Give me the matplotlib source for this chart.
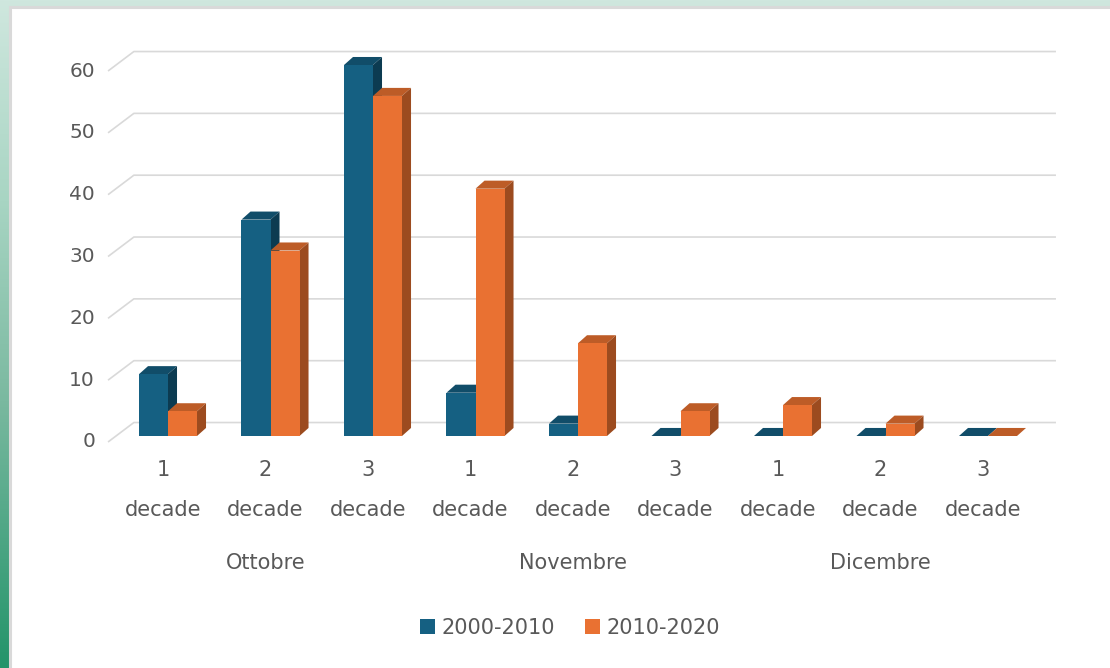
import numpy as np
import matplotlib.pyplot as plt
from matplotlib.patches import Polygon, Rectangle
from matplotlib.colors import LinearSegmentedColormap

plt.rcParams['font.family'] = ['DejaVu Sans']

months = ['Ottobre', 'Novembre', 'Dicembre']
decades = ['1\ndecade', '2\ndecade', '3\ndecade'] * 3
series_names = ['2000-2010', '2010-2020']
s2000 = [10, 35, 60, 7, 2, 0, 0, 0, 0]
s2010 = [4, 30, 55, 40, 15, 4, 5, 2, 0]
yticks = [0, 10, 20, 30, 40, 50, 60]

W, H = 1110, 668
fig = plt.figure(figsize=(W / 100, H / 100), dpi=100)

# green gradient behind the white panel
bg = fig.add_axes([0, 0, 1, 1])
cmap = LinearSegmentedColormap.from_list(
    'bg', [(0, '#cfe7de'), (0.3, '#a8d5c3'), (0.6, '#7ab9a0'), (1, '#23946a')])
grad = np.linspace(0, 1, 256).reshape(-1, 1)
bg.imshow(grad, aspect='auto', cmap=cmap, extent=[0, 1, 0, 1])
bg.set_xlim(0, 1)
bg.set_ylim(0, 1)
bg.axis('off')
bg.add_patch(Rectangle((10 / W, -0.01), 1.1, 1 - 7.5 / H + 0.01,
                       transform=bg.transAxes, facecolor='white',
                       edgecolor='#d9d9d9', linewidth=2.2))

# main axes spans the figure; limits chosen so one category = 102.5 px, one unit = 6.18 px
ax = fig.add_axes([0, 0, 1, 1], facecolor='none')
ax.set_xlim(-168 / 102.5, (W - 168) / 102.5)
ax.set_ylim(-(H - 436) / 6.183, 436 / 6.183)
ax.axis('off')

# 3D offsets (data units)
dx, dy = 0.088, 1.3          # bar depth
wx0, wy0 = -0.585, -0.97     # front edge of side wall
wx1, wy1 = -0.333, 2.18      # back wall corner
wx2 = 8.663                  # back wall right end
grey = '#595959'

for v in yticks:
    ax.plot([wx0, wx1, wx2], [v + wy0, v + wy1, v + wy1], color='#d9d9d9',
            lw=1.2, zorder=1, solid_capstyle='butt')
    ax.text(-0.712, v + wy0, str(v), ha='right', va='center', fontsize=14.5, color=grey)

x = np.arange(len(s2000))
bw = 0.283
styles = [('#156082', '#114d69', '#0c3b51'), ('#e97132', '#bd5c27', '#9c4b1f')]

for k, (vals, name) in enumerate(zip([s2000, s2010], series_names)):
    front, top, side = styles[k]
    left = x - bw + k * bw
    z = 2 + 2 * k
    ax.bar(left, vals, bw, align='edge', color=front, label=name, zorder=z + 1, linewidth=0)
    for l, h in zip(left, vals):
        ax.add_patch(Polygon([(l, h), (l + bw, h), (l + bw + dx, h + dy), (l + dx, h + dy)],
                             closed=True, facecolor=top, edgecolor='none', zorder=z))
        ax.add_patch(Polygon([(l + bw, 0), (l + bw + dx, dy), (l + bw + dx, h + dy), (l + bw, h)],
                             closed=True, facecolor=side, edgecolor='none', zorder=z))

for i, lab in enumerate(decades):
    num, word = lab.split('\n')
    ax.text(i - 0.05, -5.5, num, ha='center', va='center', fontsize=15, color=grey)
    ax.text(i - 0.05, -12.0, word, ha='center', va='center', fontsize=15, color=grey)
for j, m in enumerate(months):
    ax.text(3 * j + 1 - 0.05, -20.5, m, ha='center', va='center', fontsize=15, color=grey)

leg = ax.legend(loc='center', bbox_to_anchor=(570 / W, 1 - 628 / H), bbox_transform=fig.transFigure,
                ncol=2, frameon=False, fontsize=15, handlelength=0.72, handleheight=0.72,
                handletextpad=0.35, columnspacing=1.4)
for t in leg.get_texts():
    t.set_color(grey)

fig.savefig('out.png', dpi=100)
